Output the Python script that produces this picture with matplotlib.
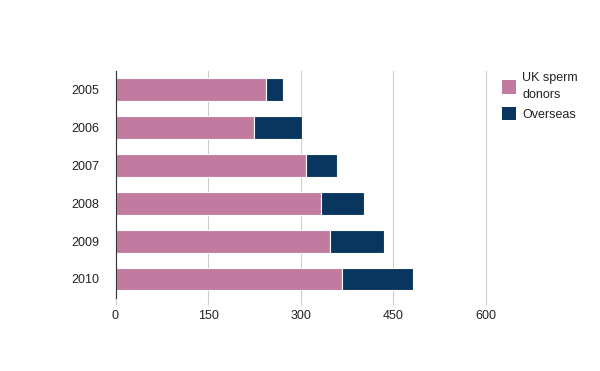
import numpy as np
import matplotlib.pyplot as plt
from matplotlib.patches import Patch

plt.rcParams["font.family"] = ["Liberation Sans", "DejaVu Sans"]

years = ["2005", "2006", "2007", "2008", "2009", "2010"]
uk_donors = [243, 225, 308, 332, 348, 366]
overseas = [29, 77, 50, 71, 87, 115]
xticks = [0, 150, 300, 450, 600]

pink = "#c27ba0"
navy = "#08365f"

fig = plt.figure(figsize=(6, 3.71), dpi=100)
ax = fig.add_axes([0.1925, 0.197, 0.6175, 0.612])

y = np.arange(len(years))
ax.barh(y, uk_donors, height=0.6, color=pink, edgecolor="white", linewidth=0.8)
ax.barh(y, overseas, left=uk_donors, height=0.6, color=navy, edgecolor="white", linewidth=0.8)

ax.set_xlim(0, 600)
ax.set_ylim(len(years) - 0.5, -0.5)
ax.set_yticks(y)
ax.set_yticklabels(years)
ax.set_xticks(xticks)
ax.set_xticklabels([str(t) for t in xticks])

ax.grid(axis="x", color="#cccccc", linewidth=0.8)
for gl in ax.get_xgridlines():
    gl.set_clip_on(False)
ax.set_axisbelow(True)
for s in ["top", "right", "bottom"]:
    ax.spines[s].set_visible(False)
ax.spines["left"].set_color("#333333")
ax.tick_params(axis="y", length=0, pad=12, labelsize=9, labelcolor="#222222")
ax.tick_params(axis="x", length=5, color="#cccccc", pad=4, labelsize=9, labelcolor="#222222")

handles = [Patch(facecolor=pink, label="UK sperm\ndonors"),
           Patch(facecolor=navy, label="Overseas")]
leg = fig.legend(handles=handles, loc="upper left", bbox_to_anchor=(0.818, 0.835),
                 frameon=False, handlelength=1.1, handleheight=1.3,
                 handletextpad=0.5, labelspacing=0.5,
                 prop={"family": "Liberation Sans", "size": 9})
for t in leg.get_texts():
    t.set_linespacing(1.45)
    t.set_color("#222222")

plt.savefig("out.png", dpi=100)
